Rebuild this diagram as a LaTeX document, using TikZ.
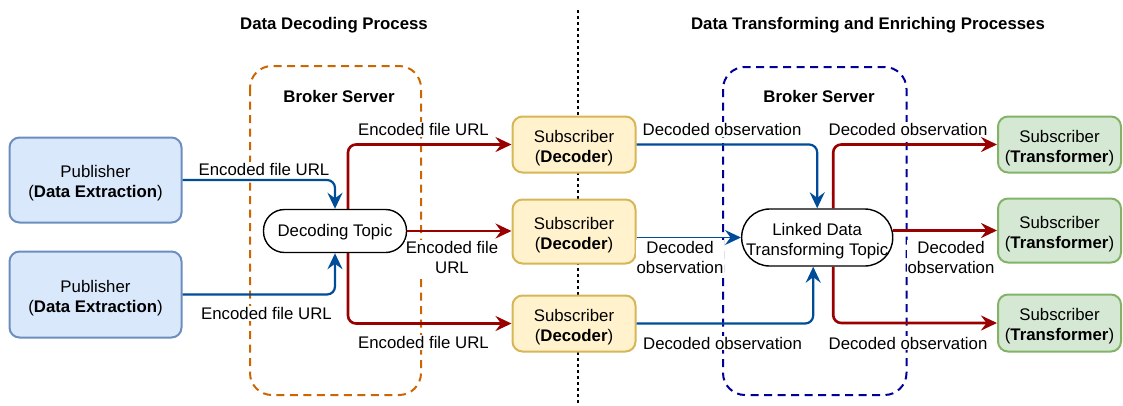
\documentclass[tikz,border=0pt]{standalone}
\usepackage{fontspec}
\setmainfont{Liberation Sans}
\usetikzlibrary{arrows.meta,calc}
\definecolor{pubfill}{HTML}{DAE8FC}
\definecolor{pubdraw}{HTML}{6C8EBF}
\definecolor{decfill}{HTML}{FFF2CC}
\definecolor{decdraw}{HTML}{D6B656}
\definecolor{trfill}{HTML}{D5E8D4}
\definecolor{trdraw}{HTML}{82B366}
\definecolor{bluearr}{HTML}{004C99}
\definecolor{redarr}{HTML}{990000}
\definecolor{orangedash}{HTML}{CC6600}
\definecolor{navydash}{HTML}{000099}
\newcommand{\tstrut}{\rule{0pt}{19pt}}
\begin{document}
\begin{tikzpicture}[x=1pt,y=-1pt,
  every node/.style={font=\fontsize{16.8}{20}\selectfont},
  box/.style={draw, line width=2pt, rounded corners=10pt, align=center, inner sep=0pt},
  pubbox/.style={box, fill=pubfill, draw=pubdraw, minimum width=172pt},
  decbox/.style={box, fill=decfill, draw=decdraw, minimum width=123pt},
  trbox/.style={box, fill=trfill, draw=trdraw, minimum width=123pt},
  topicbox/.style={draw=black, line width=1.4pt, fill=white, align=center, inner sep=0pt},
  lbl/.style={fill=white, inner sep=1pt, align=center},
  ttl/.style={font=\fontsize{16.8}{20}\selectfont\bfseries},
  tipa/.style={-{Stealth[length=16pt,width=15pt,inset=5.5pt]}},
  bluecon/.style={tipa, draw=bluearr, line width=2.2pt, rounded corners=8pt},
  bluethin/.style={-{Stealth[length=16pt,width=15pt,inset=5.5pt]}, draw=bluearr, line width=1.4pt},
  redcon/.style={tipa, draw=redarr, line width=2.6pt, rounded corners=8pt},
  brokerbox/.style={line width=2pt, dash pattern=on 8pt off 5.5pt, rounded corners=22pt},
  sepline/.style={line width=2.7pt, dash pattern=on 2.7pt off 3.3pt}
]
\useasboundingbox (0,0) rectangle (1123,405);

% separator and broker boxes
\draw[sepline] (578,10) -- (578,405);
\draw[brokerbox, draw=orangedash] (250,66) rectangle (421,395);
\draw[brokerbox, draw=navydash] (723,67) rectangle (906.5,395);

% titles
\node[ttl] (t1) at (334,25) {Data Decoding Process};
\node[ttl] (t2) at (868,25) {Data Transforming and Enriching Processes};
\node[ttl] (b1) at (339,96) {Broker Server};
\node[ttl] (b2) at (819,96) {Broker Server};

% nodes
\node[pubbox, minimum height=85pt] (pub1) at (95.5,180) {\tstrut Publisher\\(\textbf{Data Extraction})};
\node[pubbox, minimum height=86pt] (pub2) at (95.5,294.5) {\tstrut Publisher\\(\textbf{Data Extraction})};

\node[topicbox, minimum width=143pt, minimum height=43pt, rounded corners=21pt] (dt) at (335,231) {\rule{0pt}{15pt}Decoding Topic};

\node[decbox, minimum height=56pt] (dec1) at (574,144.5) {\tstrut Subscriber\\(\textbf{Decoder})};
\node[decbox, minimum height=64pt] (dec2) at (574,231.5) {\tstrut Subscriber\\(\textbf{Decoder})};
\node[decbox, minimum height=56pt] (dec3) at (574,323.5) {\tstrut Subscriber\\(\textbf{Decoder})};

\node[topicbox, minimum width=151pt, minimum height=57pt, rounded corners=28pt] (lt) at (817.2,237.5) {\tstrut Linked Data\\Transforming Topic};

\node[trbox, minimum height=56pt] (tr1) at (1059.5,144.5) {\tstrut Subscriber\\(\textbf{Transformer})};
\node[trbox, minimum height=64pt] (tr2) at (1059.5,230.5) {\tstrut Subscriber\\(\textbf{Transformer})};
\node[trbox, minimum height=57pt] (tr3) at (1059.5,323) {\tstrut Subscriber\\(\textbf{Transformer})};

% labels
\node[lbl] (l1) at (264,169.5) {Encoded file URL};
\node[lbl] (l2) at (266.5,313.5) {Encoded file URL};
\node[lbl] (l3) at (423.5,129.5) {Encoded file URL};
\node[lbl] (l4) at (452,257) {Encoded file\\URL};
\node[lbl] (l5) at (423.5,342.5) {Encoded file URL};
\node[lbl] (l6) at (722,129.5) {Decoded observation};
\node[lbl] (l7) at (680,257) {Decoded\\observation};
\node[lbl] (l8) at (722.5,343) {Decoded observation};
\node[lbl] (l9) at (908,129.5) {Decoded observation};
\node[lbl] (l10) at (951,257) {Decoded\\observation};
\node[lbl] (l11) at (908,343) {Decoded observation};

% connectors: publishers to decoding topic
\draw[bluecon] (pub1.east) -| (dt.north);
\draw[bluecon] (pub2.east) -| (dt.south);

% decoding topic to decoders
\draw[redcon] ([xshift=13pt]dt.north) |- (dec1.west);
\draw[redcon] (dt.east) -- (dt.east -| dec2.west);
\draw[redcon] ([xshift=13pt]dt.south) |- (dec3.west);

% decoders to linked data topic
\draw[bluecon] (dec1.east) -| (lt.north);
\draw[bluethin] (dec2.east |- lt.west) -- (lt.west);
\draw[bluecon] (dec3.east) -| ([xshift=-4pt]lt.south);

% linked data topic to transformers
\draw[redcon] ([xshift=16pt]lt.north) |- (tr1.west);
\draw[redcon] (lt.east |- tr2.west) -- (tr2.west);
\draw[redcon] ([xshift=16pt]lt.south) |- (tr3.west);
\end{tikzpicture}
\end{document}
